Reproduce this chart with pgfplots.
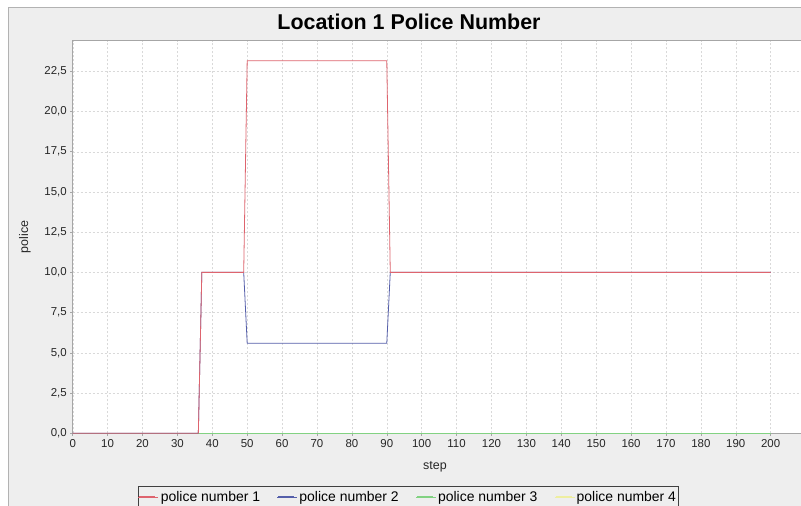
\documentclass[border=0pt]{standalone}
\usepackage{fontspec}
\setmainfont{Liberation Sans}
\usepackage{pgfplots}
\pgfplotsset{compat=1.18}
\definecolor{bgpanel}{RGB}{238,238,238}
\definecolor{sred}{RGB}{222,100,110}
\definecolor{sblue}{RGB}{85,95,170}
\definecolor{sgreen}{RGB}{130,210,130}
\definecolor{syellow}{RGB}{238,238,160}
\begin{document}
\begin{tikzpicture}[x=1bp,y=1bp]
\path[use as bounding box] (0,0) rectangle (801,506);
\fill[white] (0,0) rectangle (801,506);
\fill[bgpanel] (8,0) rectangle (801,499);
\draw[gray!60, line width=0.6bp] (8,0) -- (8,499) -- (801,499);
\node[font=\fontsize{21.5}{25}\selectfont\bfseries] at (409,484) {Location 1 Police Number};
\node[font=\fontsize{12.5}{14}\selectfont, text=black!85] at (435,39) {step};
\node[font=\fontsize{12.5}{14}\selectfont, text=black!85, rotate=90] at (25,269) {police};
\draw[black!75, line width=0.7bp] (138.5,-6) rectangle (678.5,19.5);
\begin{axis}[
  at={(72.7bp,72.7bp)}, anchor=south west,
  scale only axis, width=728.3bp, height=392.6bp,
  xmin=0, xmax=208.7, ymin=0, ymax=24.4,
  xtick={0,10,...,200},
  ytick={0,2.5,5,7.5,10,12.5,15,17.5,20,22.5},
  axis background/.style={fill=white},
  grid=major,
  grid style={gray!30, dash pattern=on 2bp off 2bp, line width=0.4bp},
  axis line style={gray!70, line width=0.6bp},
  tick style={gray!70, line width=0.5bp},
  tick align=outside, major tick length=2.5bp,
  x tick label style={/pgf/number format/.cd, fixed, precision=0, 1000 sep={}},
  y tick label style={/pgf/number format/.cd, use comma, fixed, fixed zerofill, precision=1},
  /pgf/number format/assume math mode=true,
  ticklabel style={font=\fontsize{11.5}{13}\selectfont, text=black!85},
  xtick pos=bottom, ytick pos=left,
  legend columns=4,
  legend style={at={(axis description cs:0.4604,-0.1342)}, anchor=north,
    draw=none, fill=none, font=\fontsize{14}{16}\selectfont,
    inner xsep=2bp, inner ysep=3bp,
    /tikz/every even column/.append style={column sep=15bp}},
  legend cell align=left,
  legend image code/.code={\path (0bp,0bp) -- (20bp,0bp);\draw[line width=1.3bp,#1] (1bp,0.5bp) -- (17bp,0.5bp);},
]
\addplot[syellow, line width=0.8bp, forget plot] coordinates {(0,0) (200,0)};
\addplot[sgreen, line width=0.8bp, forget plot] coordinates {(0,0) (200,0)};
\addplot[sblue, line width=0.8bp, forget plot] coordinates {(0,0) (36,0) (37,10) (49,10) (50,5.6) (90,5.6) (91,10) (200,10)};
\addplot[sred, line width=0.8bp] coordinates {(0,0) (36,0) (37,10) (49,10) (50,23.15) (90,23.15) (91,10) (200,10)};
\addlegendentry{police number 1}
\addlegendimage{sblue}
\addlegendentry{police number 2}
\addlegendimage{sgreen}
\addlegendentry{police number 3}
\addlegendimage{syellow}
\addlegendentry{police number 4}
\end{axis}
\end{tikzpicture}
\end{document}
